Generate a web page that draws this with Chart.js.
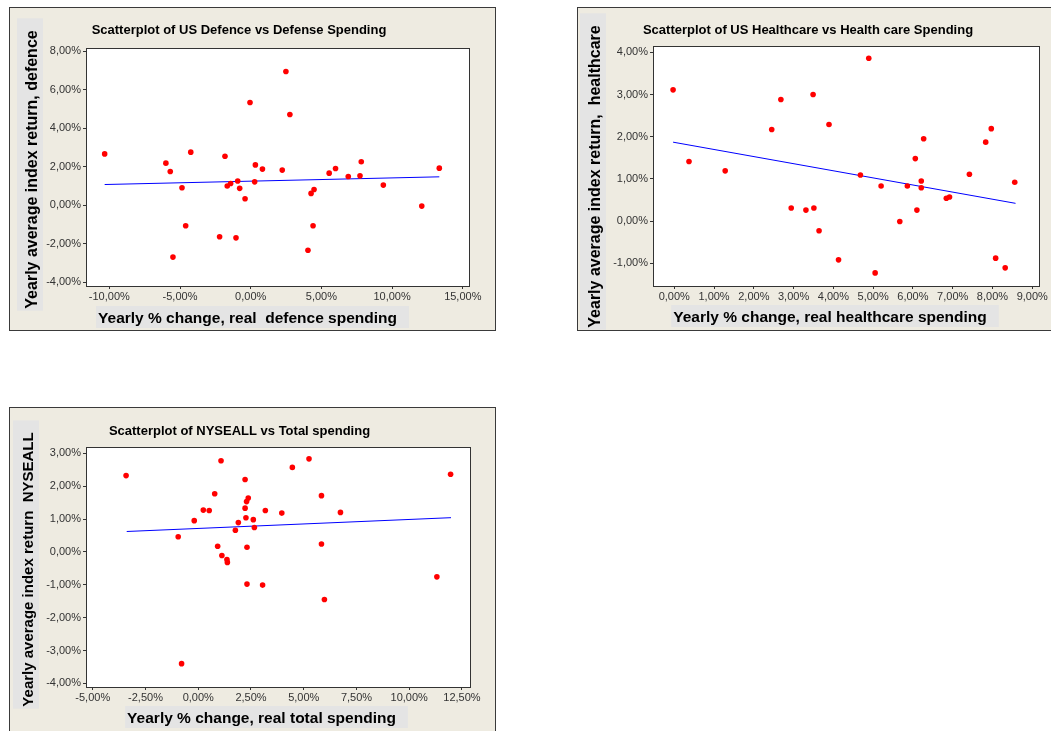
<!DOCTYPE html>
<html>
<head>
<meta charset="utf-8">
<script src="https://cdn.jsdelivr.net/npm/chart.js@4.4.1/dist/chart.umd.min.js"></script>
<style>
  html, body { margin: 0; padding: 0; background: #fff; width: 1051px; height: 731px; overflow: hidden; }
  .frame { position: absolute; background: #eeebe1; box-shadow: inset 0 0 0 1px #3a3a3a; }
  .frame canvas { position: absolute; left: 0; top: 0; }
</style>
</head>
<body>
<div class="frame" style="left:9px;top:7px;width:487px;height:324px"><canvas id="defence" width="487" height="324"></canvas></div>
<div class="frame" style="left:577px;top:7px;width:483px;height:324px"><canvas id="health" width="483" height="324"></canvas></div>
<div class="frame" style="left:9px;top:407px;width:487px;height:335px"><canvas id="total" width="487" height="335"></canvas></div>
<script>
// Values, all in percent

// US Defence vs defence spending
const defSpend = [-10.33, -6.0, -5.69, -4.86, -4.6, -5.5, -4.24, -1.82, -2.2, -1.66, -1.42, -0.92, -0.78, -1.04, -0.40, -0.05, 0.28,
  0.33, 0.83, 2.23, 2.49, 2.77, 4.05, 4.27, 4.48, 4.41, 5.55, 6.0, 6.9, 7.73, 7.82, 9.38, 12.1, 13.34];
const defReturn = [2.66, 2.18, 1.75, 0.90, -1.07, -2.70, 2.75, 2.54, -1.64, 0.99, 1.12, 1.25, 0.87, -1.70, 0.33, 5.33, 1.21,
  2.09, 1.87, 1.82, 6.94, 4.71, -2.34, 0.61, 0.81, -1.07, 1.66, 1.90, 1.49, 1.52, 2.25, 1.04, -0.05, 1.92];
const defFitX = [-10.33, 13.34];
const defFitY = [1.07, 1.47];
const defXTicks = [-10, -5, 0, 5, 10, 15];
const defYTicks = [-4, -2, 0, 2, 4, 6, 8];

// US Healthcare vs health care spending
const hcSpend = [-0.03, 0.37, 1.28, 2.45, 2.68, 2.94, 3.31, 3.49, 3.51, 3.64, 3.89, 4.13, 4.68, 4.89, 5.05, 5.20, 5.67, 5.86,
  6.06, 6.10, 6.21, 6.21, 6.27, 6.84, 6.92, 7.42, 7.83, 7.97, 8.08, 8.32, 8.56];
const hcReturn = [3.11, 1.41, 1.19, 2.17, 2.88, 0.31, 0.26, 3.00, 0.31, -0.23, 2.29, -0.92, 1.09, 3.86, -1.23, 0.83, -0.01, 0.83,
  1.48, 0.26, 0.95, 0.79, 1.95, 0.54, 0.57, 1.11, 1.87, 2.19, -0.88, -1.11, 0.92];
const hcFitX = [-0.03, 8.58];
const hcFitY = [1.87, 0.42];
const hcXTicks = [0, 1, 2, 3, 4, 5, 6, 7, 8, 9];
const hcYTicks = [-1, 0, 1, 2, 3, 4];

// NYSEALL vs total spending
const totSpend = [-3.42, -0.95, -0.79, -0.19, 0.24, 0.52, 0.78, 0.92, 1.08, 1.12, 1.36, 1.38, 1.76, 1.90, 2.22, 2.22, 2.26,
  2.29, 2.37, 2.31, 2.31, 2.61, 2.66, 3.05, 3.18, 3.96, 4.46, 5.25, 5.84, 5.84, 5.98, 6.74, 11.31, 11.96];
const totReturn = [2.32, 0.46, -3.40, 0.95, 1.27, 1.26, 1.77, 0.17, 2.77, -0.11, -0.23, -0.32, 0.66, 0.89, 2.20, 1.33, 1.04,
  1.53, 1.64, 0.14, -0.98, 0.98, 0.74, -1.01, 1.26, 1.18, 2.57, 2.83, 1.71, 0.24, -1.45, 1.20, -0.76, 2.36];
const totFitX = [-3.39, 11.98];
const totFitY = [0.62, 1.04];
const totXTicks = [-5, -2.5, 0, 2.5, 5, 7.5, 10, 12.5];
const totYTicks = [-4, -3, -2, -1, 0, 1, 2, 3];

Chart.defaults.font.family = '"Liberation Sans", Arial, sans-serif';
Chart.defaults.color = '#333';

// "8,00%" style labels
const pct = v => v.toFixed(2).replace('.', ',') + '%';

// White plot box with a frame, plus the grey-backed axis titles
const minitabLook = {
  id: 'minitabLook',
  beforeDraw(chart) {
    const { ctx, chartArea: a } = chart;
    ctx.save();
    ctx.fillStyle = '#fff';
    ctx.fillRect(a.left, a.top, a.right - a.left, a.bottom - a.top);
    ctx.restore();
  },
  afterDraw(chart, args, o) {
    const { ctx, chartArea: a } = chart;
    ctx.save();
    ctx.strokeStyle = '#333';
    ctx.lineWidth = 1;
    ctx.strokeRect(Math.round(a.left) + 0.5, Math.round(a.top) + 0.5,
      Math.round(a.right - a.left), Math.round(a.bottom - a.top));

    ctx.textAlign = 'center';
    ctx.textBaseline = 'alphabetic';

    // x title
    ctx.font = 'bold ' + o.xSize + 'px "Liberation Sans", Arial, sans-serif';
    let w = ctx.measureText(o.xTitle).width;
    const cx = (a.left + a.right) / 2 + o.xShift;
    const base = a.bottom + o.xGap;
    ctx.fillStyle = '#e4e4e4';
    ctx.fillRect(cx - w / 2 - 2, base - 17, w + 14, 22);
    ctx.fillStyle = '#000';
    ctx.fillText(o.xTitle, cx, base);

    // y title, rotated
    ctx.font = 'bold ' + o.ySize + 'px "Liberation Sans", Arial, sans-serif';
    w = ctx.measureText(o.yTitle).width;
    ctx.translate(a.left - o.yGap, (a.top + a.bottom) / 2 + o.yShift);
    ctx.rotate(-Math.PI / 2);
    ctx.fillStyle = '#e4e4e4';
    ctx.fillRect(-w / 2 - 2, -20, w + 14, 26);
    ctx.fillStyle = '#000';
    ctx.fillText(o.yTitle, 0, 0);
    ctx.restore();
  }
};

function makeScatter(id, c) {
  const canvas = document.getElementById(id);
  const H = canvas.height;
  const axis = (ticks, min, max) => ({
    type: 'linear',
    min: min,
    max: max,
    afterBuildTicks: s => { s.ticks = ticks.map(v => ({ value: v })); },
    ticks: { callback: pct, color: '#333', font: { size: 11 }, autoSkip: false, maxRotation: 0 },
    grid: { drawOnChartArea: false, tickLength: 3, tickColor: '#333', color: '#333' },
    border: { color: '#333' }
  });
  const xAxis = axis(c.xTicks, c.xMin, c.xMax);
  xAxis.ticks.padding = 1;
  xAxis.afterFit = s => { s.height = H - c.plotBottom; };
  const yAxis = axis(c.yTicks, c.yMin, c.yMax);
  yAxis.ticks.padding = 2;
  yAxis.afterFit = s => { s.width = c.plotLeft; };

  return new Chart(canvas, {
    type: 'scatter',
    data: {
      datasets: [
        {
          data: c.x.map((v, i) => ({ x: v, y: c.y[i] })),
          backgroundColor: '#ff0000',
          borderWidth: 0,
          pointRadius: 2.8,
          order: 1
        },
        {
          type: 'line',
          data: c.fitX.map((v, i) => ({ x: v, y: c.fitY[i] })),
          borderColor: '#0000ff',
          borderWidth: 1,
          pointRadius: 0,
          order: 2
        }
      ]
    },
    options: {
      responsive: false,
      animation: false,
      devicePixelRatio: 1,
      layout: { padding: { left: 0, top: 0, bottom: 0, right: c.padRight } },
      scales: { x: xAxis, y: yAxis },
      plugins: {
        legend: { display: false },
        tooltip: { enabled: false },
        title: {
          display: true,
          text: c.title,
          color: '#000',
          font: { size: 13, weight: 'bold' },
          padding: { top: c.titleTop, bottom: c.titleBottom }
        },
        minitabLook: c.axisTitles
      }
    },
    plugins: [minitabLook]
  });
}

makeScatter('defence', {
  title: 'Scatterplot of US Defence vs Defense Spending',
  x: defSpend, y: defReturn, fitX: defFitX, fitY: defFitY,
  xTicks: defXTicks, yTicks: defYTicks,
  xMin: -11.65, xMax: 15.44, yMin: -4.2, yMax: 8.16,
  plotLeft: 77, plotBottom: 279, padRight: 27, titleTop: 15.5, titleBottom: 9.9,
  axisTitles: { xTitle: 'Yearly % change, real  defence spending', yTitle: 'Yearly average index return, defence',
    xSize: 15.5, ySize: 16, xShift: -30, xGap: 37, yGap: 49, yShift: 2.5 }
});

makeScatter('health', {
  title: 'Scatterplot of US Healthcare vs Health care Spending',
  x: hcSpend, y: hcReturn, fitX: hcFitX, fitY: hcFitY,
  xTicks: hcXTicks, yTicks: hcYTicks,
  xMin: -0.535, xMax: 9.17, yMin: -1.54, yMax: 4.15,
  plotLeft: 76, plotBottom: 279, padRight: 21, titleTop: 15.5, titleBottom: 7.9,
  axisTitles: { xTitle: 'Yearly % change, real healthcare spending', yTitle: 'Yearly average index return,  healthcare',
    xSize: 15.5, ySize: 16, xShift: -16, xGap: 36, yGap: 53, yShift: 10.5 }
});

makeScatter('total', {
  title: 'Scatterplot of NYSEALL vs Total spending',
  x: totSpend, y: totReturn, fitX: totFitX, fitY: totFitY,
  xTicks: totXTicks, yTicks: totYTicks,
  xMin: -5.32, xMax: 12.88, yMin: -4.11, yMax: 3.19,
  plotLeft: 77, plotBottom: 280, padRight: 26, titleTop: 16.5, titleBottom: 7.9,
  axisTitles: { xTitle: 'Yearly % change, real total spending', yTitle: 'Yearly average index return  NYSEALL',
    xSize: 15.5, ySize: 15, xShift: -16.5, xGap: 36, yGap: 53, yShift: 2.5 }
});
</script>
</body>
</html>
